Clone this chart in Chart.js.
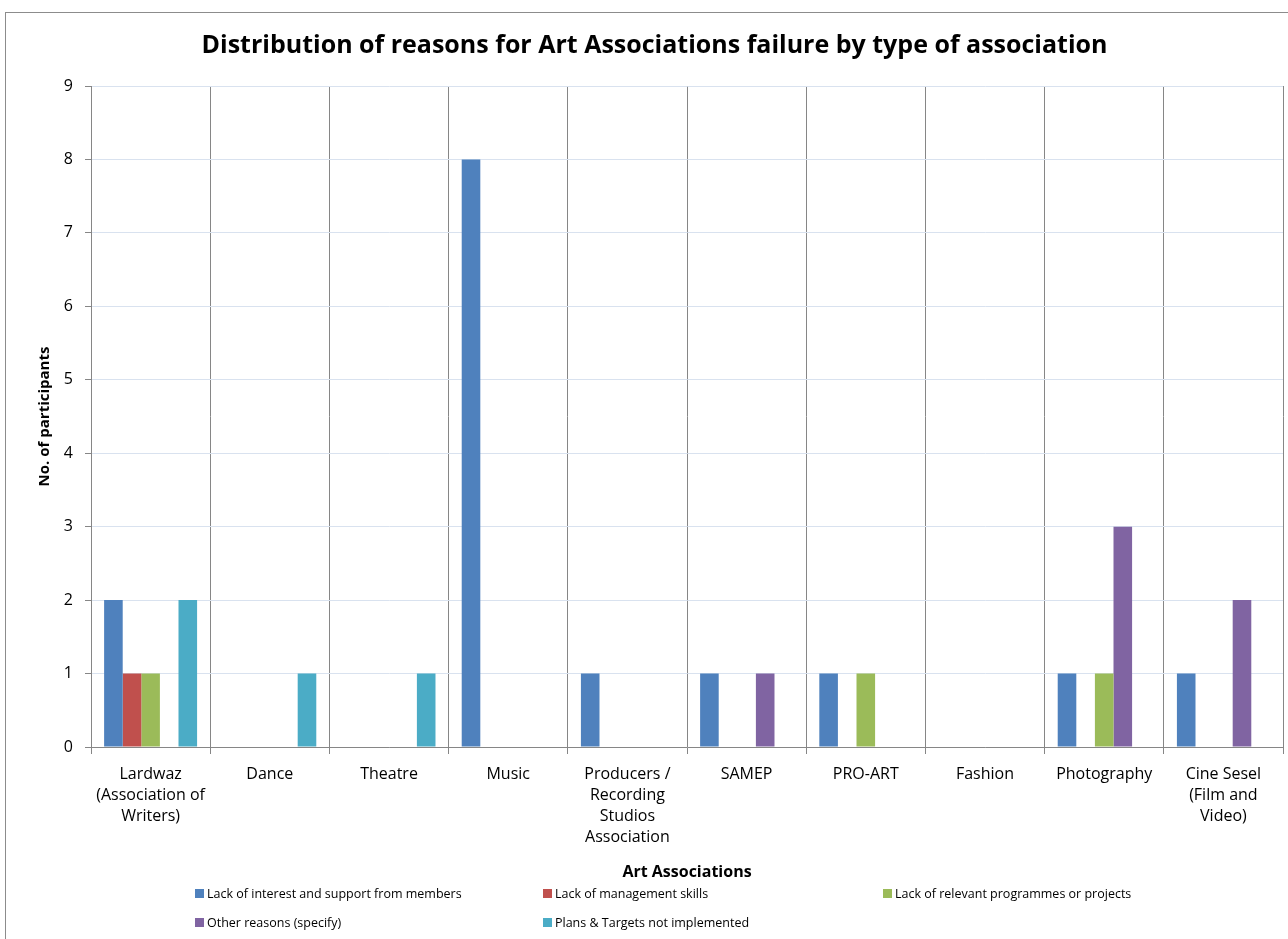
<!DOCTYPE html>
<html>
<head>
<meta charset="utf-8">
<title>Art Associations failure reasons</title>
<script src="https://cdn.jsdelivr.net/npm/chart.js@4.4.1/dist/chart.umd.min.js"></script>
<style>
    html, body { margin: 0; padding: 0; background: #fff; overflow: hidden; }
    #wrap { position: relative; width: 1288px; height: 939px; }
    #frame {
        position: absolute; left: 5px; top: 12px; width: 1400px; height: 1000px;
        border-left: 1px solid #8c8c8c; border-top: 1px solid #8c8c8c;
    }
    #chartBox { position: absolute; left: 0; top: 0; width: 1288px; height: 939px; }
    #legend {
        position: absolute; left: 195px; top: 884px;
        display: grid; grid-template-columns: 348px 340px 340px; row-gap: 11px;
        font-family: 'Open Sans', sans-serif; font-size: 12.5px; color: #000;
    }
    .item { display: flex; align-items: center; height: 18px; white-space: nowrap; }
    .swatch { width: 9px; height: 9px; margin-right: 3px; }
</style>
</head>
<body>
<div id="wrap">
    <div id="frame"></div>
    <div id="chartBox"><canvas id="reasonsChart"></canvas></div>
    <div id="legend"></div>
</div>
<script>
// ==========================================
// DATA
// ==========================================

const associations = [
    ['Lardwaz', '(Association of', 'Writers)'],
    'Dance',
    'Theatre',
    'Music',
    ['Producers /', 'Recording', 'Studios', 'Association'],
    'SAMEP',
    'PRO-ART',
    'Fashion',
    'Photography',
    ['Cine Sesel', '(Film and', 'Video)']
];

const lackOfInterest   = [2, 0, 0, 8, 1, 1, 1, 0, 1, 1];
const lackOfManagement = [1, 0, 0, 0, 0, 0, 0, 0, 0, 0];
const lackOfProgrammes = [1, 0, 0, 0, 0, 0, 1, 0, 1, 0];
const otherReasons     = [0, 0, 0, 0, 0, 1, 0, 0, 3, 2];
const plansNotDone     = [2, 1, 1, 0, 0, 0, 0, 0, 0, 0];

const seriesNames = [
    'Lack of interest and support from members',
    'Lack of management skills',
    'Lack of relevant programmes or projects',
    'Other reasons (specify)',
    'Plans & Targets not implemented'
];
const seriesColors = ['#4f81bd', '#c0504d', '#9bbb59', '#8064a2', '#4bacc6'];

const yTicks = [0, 1, 2, 3, 4, 5, 6, 7, 8, 9];

// ==========================================
// CHART
// ==========================================

const FONT = "'Open Sans', sans-serif";
const seriesValues = [lackOfInterest, lackOfManagement, lackOfProgrammes, otherReasons, plansNotDone];

const datasets = seriesValues.map((values, i) => ({
    label: seriesNames[i],
    data: values,
    backgroundColor: seriesColors[i],
    borderWidth: 0,
    categoryPercentage: 0.78,
    barPercentage: 1.0
}));

new Chart(document.getElementById('reasonsChart'), {
    type: 'bar',
    data: { labels: associations, datasets: datasets },
    options: {
        responsive: true,
        maintainAspectRatio: false,
        animation: false,
        layout: { padding: { left: 26, right: 5, top: 0, bottom: 57 } },
        plugins: {
            legend: { display: false },
            tooltip: { enabled: false },
            title: {
                display: true,
                text: 'Distribution of reasons for Art Associations failure by type of association',
                color: '#000',
                font: { family: FONT, size: 25, weight: 'bold', lineHeight: 1.2 },
                padding: { top: 31, bottom: 25 }
            }
        },
        scales: {
            x: {
                offset: true,
                afterFit: (scale) => { scale.height = 135; },
                grid: {
                    offset: true,
                    color: '#868686',
                    tickColor: '#868686',
                    tickLength: 7,
                    drawOnChartArea: true
                },
                border: { color: '#868686' },
                ticks: {
                    color: '#000',
                    font: { family: FONT, size: 16, lineHeight: 1.31 },
                    padding: 10,
                    maxRotation: 0,
                    minRotation: 0,
                    autoSkip: false
                },
                title: {
                    display: true,
                    text: 'Art Associations',
                    color: '#000',
                    font: { family: FONT, size: 16, weight: 'bold', lineHeight: 1.2 },
                    padding: { top: 0, bottom: 0 }
                }
            },
            y: {
                min: 0,
                max: 9,
                afterFit: (scale) => { scale.width = 65; },
                afterBuildTicks: (scale) => {
                    scale.ticks = yTicks.map(v => ({ value: v }));
                },
                grid: {
                    color: '#d9e2ef',
                    tickColor: '#868686',
                    tickLength: 6
                },
                border: { color: '#868686' },
                ticks: {
                    color: '#000',
                    font: { family: FONT, size: 16 },
                    padding: 12
                },
                title: {
                    display: true,
                    text: 'No. of participants',
                    color: '#000',
                    font: { family: FONT, size: 15, weight: 'bold', lineHeight: 1.2 },
                    padding: { top: 10, bottom: 0 }
                }
            }
        }
    }
});

// ==========================================
// LEGEND
// ==========================================

const legendEl = document.getElementById('legend');
seriesNames.forEach((name, i) => {
    const item = document.createElement('div');
    item.className = 'item';
    item.innerHTML = `<span class="swatch" style="background:${seriesColors[i]}"></span><span>${name}</span>`;
    legendEl.appendChild(item);
});
</script>
</body>
</html>
